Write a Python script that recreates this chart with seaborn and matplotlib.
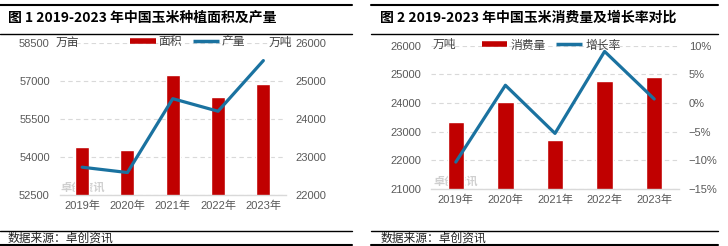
import numpy as np
import matplotlib
matplotlib.use("Agg")
import matplotlib.pyplot as plt
from matplotlib.lines import Line2D
from matplotlib.ticker import FuncFormatter
import seaborn as sns

years = ["2019年", "2020年", "2021年", "2022年", "2023年"]
area = [54380, 54260, 57210, 56380, 56880]          # 万亩
output = [22730, 22590, 24530, 24200, 25530]        # 万吨
consumption = [23330, 24030, 22710, 24780, 24910]   # 万吨
growth = [-10.3, 3.1, -5.3, 9.0, 0.7]               # %

sns.set_theme(style="white")
plt.rcParams['font.family'] = ['Liberation Sans', 'Noto Sans CJK SC', 'DejaVu Sans']

RED = "#C00000"
BLUE = "#1A72A0"
GRID = "#D9D9D9"
TICK = "#595959"

W, H = 728, 246
fig = plt.figure(figsize=(W / 100, H / 100), dpi=100)


def fx(px):
    return px / W


def fy(py):
    return 1 - py / H


def style_axes(ax, twin, lticks, rticks, rfmt=None):
    ax.set_ylim(lticks[0], lticks[-1])
    ax.set_yticks(lticks)
    twin.set_ylim(rticks[0], rticks[-1])
    twin.set_yticks(rticks)
    if rfmt:
        twin.yaxis.set_major_formatter(FuncFormatter(rfmt))
    ax.set_xlim(-0.5, 4.5)
    for a in (ax, twin):
        for s in a.spines.values():
            s.set_visible(False)
        a.tick_params(length=0, labelsize=8, labelcolor=TICK)
        a.set_xlabel("")
        a.set_ylabel("")
        a.patch.set_visible(False)
    ax.spines['bottom'].set_visible(True)
    ax.spines['bottom'].set_color(GRID)
    ax.spines['bottom'].set_linewidth(1)
    ax.tick_params(axis='y', pad=7)
    ax.tick_params(axis='x', pad=4)
    twin.tick_params(axis='y', pad=7)
    ax.yaxis.grid(True, linestyle=(0, (4, 3)), color=GRID, linewidth=0.8)
    ax.set_axisbelow(True)
    twin.grid(False)
    if twin.get_legend():
        twin.get_legend().remove()
    if ax.get_legend():
        ax.get_legend().remove()


# ---------------- Chart 1 ----------------
ax1 = fig.add_axes([fx(59.5), fy(195), fx(286 - 59.5), (195 - 42.7) / H])
sns.barplot(x=years, y=area, color=RED, saturation=1, width=0.31, ax=ax1)
t1 = ax1.twinx()
sns.lineplot(x=np.arange(len(years)), y=output, color=BLUE, linewidth=2.3, ax=t1)
style_axes(ax1, t1, [52500, 54000, 55500, 57000, 58500], [22000, 23000, 24000, 25000, 26000])

# ---------------- Chart 2 ----------------
ax2 = fig.add_axes([fx(431), fy(189), fx(679 - 431), (189 - 45.7) / H])
sns.barplot(x=years, y=consumption, color=RED, saturation=1, width=0.33, ax=ax2)
t2 = ax2.twinx()
sns.lineplot(x=np.arange(len(years)), y=growth, color=BLUE, linewidth=2.3, ax=t2)
style_axes(ax2, t2, [21000, 22000, 23000, 24000, 25000, 26000], [-15, -10, -5, 0, 5, 10],
           rfmt=lambda v, p: (f"{int(v)}%" if v >= 0 else f"\u2212{int(-v)}%"))

# unit labels
fig.text(fx(56), fy(43), "万亩", fontsize=8.5, color="#404040", ha="left", va="center")
fig.text(fx(292), fy(43), "万吨", fontsize=8.5, color="#404040", ha="right", va="center")
fig.text(fx(433), fy(45), "万吨", fontsize=8.5, color="#404040", ha="left", va="center")

# legends
def add_legend(labels, cx, cy):
    handles = [Line2D([], [], color=RED, lw=4, solid_capstyle="butt"),
               Line2D([], [], color=BLUE, lw=2.5, solid_capstyle="butt")]
    fig.legend(handles, labels, loc="center", bbox_to_anchor=(cx, cy), ncol=2, frameon=False,
               fontsize=8.5, handlelength=2.2, handletextpad=0.25, columnspacing=0.9,
               labelcolor="#404040", borderpad=0)

add_legend(["面积", "产量"], fx(187.5), fy(42))
add_legend(["消费量", "增长率"], fx(551), fy(45.5))

# watermarks (faint, behind the plots)
for x0, y0 in [(60, 187), (433, 181)]:
    fig.text(fx(x0), fy(y0), "卓创资讯", fontsize=8, color="#CFCFCF",
             ha="left", va="center", fontweight="bold", zorder=-1)

# titles and frame lines
panels = [(0, 352, 8, "图 1 2019-2023 年中国玉米种植面积及产量"),
          (371, 718, 380.5, "图 2 2019-2023 年中国玉米消费量及增长率对比")]
for x0, x1, tx, title in panels:
    for yy, lw in [(4.5, 1.5), (34, 1.0), (230.5, 1.0), (244.5, 1.5)]:
        fig.add_artist(Line2D([fx(x0), fx(x1)], [fy(yy), fy(yy)], color="black", lw=lw,
                              transform=fig.transFigure))
    fig.text(fx(tx), fy(17.5), title, fontsize=10, fontweight="bold", color="black",
             ha="left", va="center", family=["Noto Sans CJK SC", "DejaVu Sans"])
    fig.text(fx(tx), fy(238), "数据来源：卓创资讯", fontsize=8.5, color="#222222",
             ha="left", va="center", family=["Noto Sans CJK SC", "DejaVu Sans"])

fig.savefig("out.png", dpi=100)
